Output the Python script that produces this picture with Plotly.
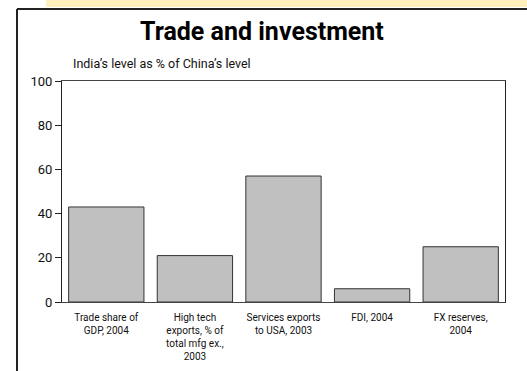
import plotly.graph_objects as go

# India's level as a percentage of China's level
categories = [
    "Trade share of<br>GDP, 2004",
    "High tech<br>exports, % of<br>total mfg ex.,<br>2003",
    "Services exports<br>to USA, 2003",
    "FDI, 2004",
    "FX reserves,<br>2004",
]
india_pct_of_china = [43, 21, 57, 6, 25]
y_ticks = [0, 20, 40, 60, 80, 100]

FONT = "Roboto, Liberation Sans, sans-serif"

# plot area in pixels: x 62..505, y 81..302
PL, PR, PT, PB = 62, 505, 81, 302
PW, PH = PR - PL, PB - PT


def px(x):
    return (x - PL) / PW


def py(y):
    return (PB - y) / PH


fig = go.Figure(
    go.Bar(
        x=categories,
        y=india_pct_of_china,
        marker=dict(color="#c0c0c0", line=dict(color="#333333", width=1)),
        hoverinfo="skip",
    )
)

fig.update_layout(
    width=527,
    height=371,
    margin=dict(l=PL, r=527 - PR, t=PT, b=371 - PB),
    paper_bgcolor="white",
    plot_bgcolor="white",
    bargap=0.15,
    showlegend=False,
    font=dict(family=FONT, color="#111111"),
    annotations=[
        dict(text="<b>Trade and investment</b>", xref="paper", yref="paper",
             x=px(262), y=py(32), xanchor="center", yanchor="middle",
             showarrow=False, font=dict(size=25, family=FONT, color="#000000")),
        dict(text="India\u2019s level as % of China\u2019s level", xref="paper", yref="paper",
             x=px(71), y=py(63), xanchor="left", yanchor="middle",
             showarrow=False, font=dict(size=12.5, family=FONT, color="#111111")),
    ],
)

fig.update_xaxes(
    showline=True, linecolor="#444444", linewidth=1, mirror=True,
    ticks="", tickfont=dict(size=10, family=FONT, color="#111111"),
    ticklabelstandoff=6, tickangle=0, showgrid=False, automargin=False,
)
fig.update_yaxes(
    range=[0, 100], tickvals=y_ticks, showgrid=False, zeroline=False,
    showline=True, linecolor="#222222", linewidth=1, mirror=True,
    ticks="outside", ticklen=6, tickcolor="#222222",
    tickfont=dict(size=13, family=FONT, color="#111111"), automargin=False,
)

# yellow band across the top edge
fig.add_shape(type="rect", xref="paper", yref="paper", layer="below",
              x0=px(46), x1=px(527), y0=py(7), y1=py(0),
              fillcolor="#fef0bd", line=dict(width=0))
# outer frame: dark rule along the top and the left edge
fig.add_shape(type="line", xref="paper", yref="paper",
              x0=px(17), x1=px(527), y0=py(9), y1=py(9),
              line=dict(color="#222222", width=2))
fig.add_shape(type="line", xref="paper", yref="paper",
              x0=px(17), x1=px(17), y0=py(371), y1=py(9),
              line=dict(color="#222222", width=2))

fig.write_html("out.html")
